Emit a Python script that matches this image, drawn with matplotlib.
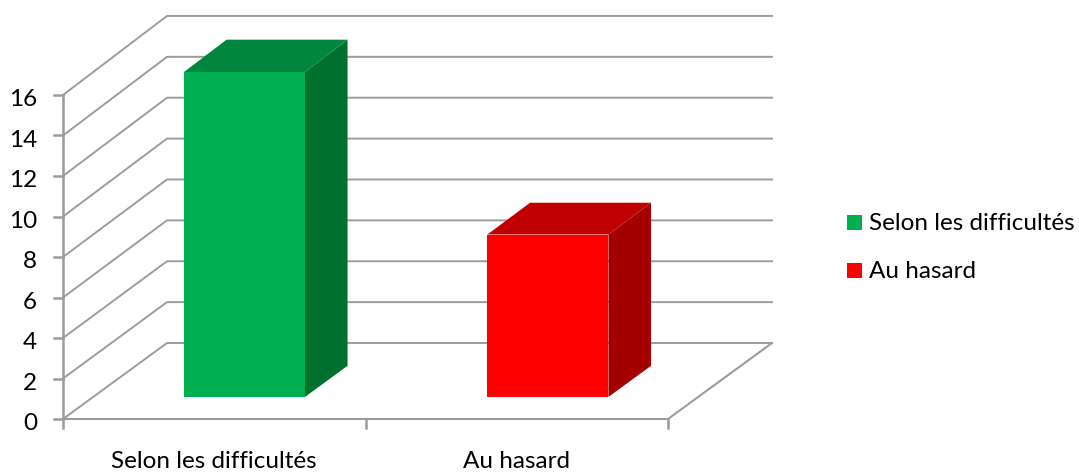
import matplotlib
matplotlib.use("Agg")
import matplotlib.pyplot as plt
from matplotlib.patches import Polygon, Rectangle

categories = ["Selon les difficultés", "Au hasard"]
values = [16, 8]
y_ticks = [0, 2, 4, 6, 8, 10, 12, 14, 16]
face_colors = ["#00B050", "#FF0000"]
top_colors = ["#00863D", "#C00000"]
side_colors = ["#00702F", "#A50000"]

plt.rcParams["font.family"] = ["Lato", "DejaVu Sans"]
GRID = "#9C9C9C"
FS = 17.5

# pixel layout of the fake 3d box
x0, x1 = 63, 668
dx = 104
front_y0, front_unit = 419, 20.25
back_y0, back_unit = 343, 20.44
d_front, d_back = 0.29, 0.70
bar_w = 121


def yf(v):
    return front_y0 - front_unit * v


def yb(v):
    return back_y0 - back_unit * v


def proj(x, v, d):
    # x along the front edge, v value, d depth 0..1
    return (x + d * dx, (1 - d) * yf(v) + d * yb(v))


fig = plt.figure(figsize=(10.79, 4.73), dpi=100)
ax = fig.add_axes([0, 0, 1, 1])
ax.set_xlim(0, 1079)
ax.set_ylim(473, 0)
ax.axis("off")

# walls and gridlines
for v in y_ticks:
    ax.plot([x0, x0 + dx, x1 + dx], [yf(v), yb(v), yb(v)], color=GRID, lw=1.4, zorder=1)
    ax.plot([x0 - 9, x0], [yf(v), yf(v)], color=GRID, lw=1.8, zorder=2)
    ax.text(37, yf(v) + 4.5, str(v), ha="right", va="center", fontsize=FS, color="black")

# floor and axes
ax.plot([x0, x0], [yf(0), yf(y_ticks[-1])], color=GRID, lw=1.8, zorder=2)
ax.plot([x0, x1, x1 + dx], [yf(0), yf(0), yb(0)], color=GRID, lw=1.5, zorder=2)

n = len(categories)
step = (x1 - x0) / n
for i in range(n + 1):
    ax.plot([x0 + i * step] * 2, [yf(0), yf(0) + 9], color=GRID, lw=1.8, zorder=2)

# bars
for i, (cat, val) in enumerate(zip(categories, values)):
    cx = x0 + (i + 0.5) * step
    left, right = cx - bar_w / 2 + i, cx + bar_w / 2 + i
    face = [proj(left, 0, d_front), proj(right, 0, d_front), proj(right, val, d_front), proj(left, val, d_front)]
    top = [proj(left, val, d_front), proj(right, val, d_front), proj(right, val, d_back), proj(left, val, d_back)]
    side = [proj(right, 0, d_front), proj(right, 0, d_back), proj(right, val, d_back), proj(right, val, d_front)]
    ax.add_patch(Polygon(side, facecolor=side_colors[i], edgecolor="none", zorder=3))
    ax.add_patch(Polygon(top, facecolor=top_colors[i], edgecolor="none", zorder=3))
    ax.add_patch(Polygon(face, facecolor=face_colors[i], edgecolor="none", zorder=4))
    ax.text(cx, 461, cat, ha="center", va="center", fontsize=FS, color="black")

# legend
for i, cat in enumerate(categories):
    ly = 222.5 + i * 48
    ax.add_patch(Rectangle((847, ly - 7.5), 15, 15, facecolor=face_colors[i], edgecolor="none"))
    ax.text(869, ly + 1, cat, ha="left", va="center", fontsize=FS, color="black")

fig.savefig("out.png", dpi=100)
